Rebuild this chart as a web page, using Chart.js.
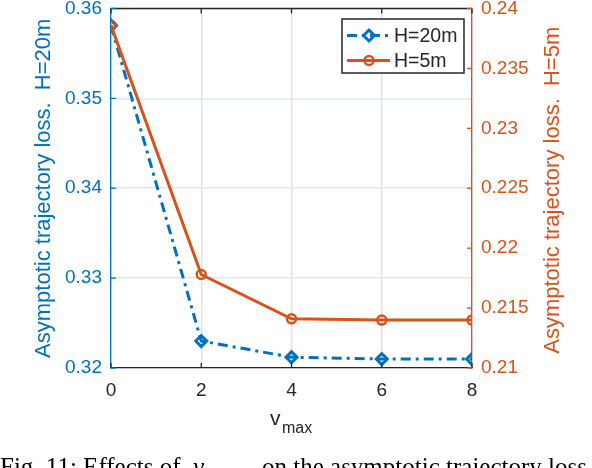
<!DOCTYPE html>
<html>
<head>
<meta charset="utf-8">
<script src="https://cdn.jsdelivr.net/npm/chart.js@4.4.0/dist/chart.umd.min.js"></script>
<style>
  html, body { margin: 0; padding: 0; background: #fff; }
  #wrap { width: 592px; height: 468px; position: relative; }
</style>
</head>
<body>
<div id="wrap"><canvas id="c" width="592" height="468"></canvas></div>
<script>
// ---- data ----
const vmax = [0, 2, 4, 6, 8];
const lossH20 = [0.3581, 0.3230, 0.3212, 0.3210, 0.3210];
const lossH5 = [0.2386, 0.2178, 0.2141, 0.2140, 0.2140];
const seriesNames = ['H=20m', 'H=5m'];
const xTicks = [0, 2, 4, 6, 8];
const leftTicks = [0.32, 0.33, 0.34, 0.35, 0.36];
const rightTicks = [0.21, 0.215, 0.22, 0.225, 0.23, 0.235, 0.24];
const leftTitle = 'Asymptotic trajectory loss.  H=20m';
const rightTitle = 'Asymptotic trajectory loss.  H=5m';
const xTitleMain = 'v';
const xTitleSub = 'max';
const captionA = 'Fig. 11: Effects of ';
const captionV = 'v';
const captionSub = 'max';
const captionB = 'on the asymptotic trajectory loss';

const BLUE = '#0072BD';
const ORANGE = '#D95319';
const DARK = '#262626';
const SANS = "'Liberation Sans', Arial, Helvetica, sans-serif";
const SERIF = "'Liberation Serif', 'Times New Roman', serif";

function fmt(v) { return (+v.toFixed(4)).toString(); }

const decor = {
  id: 'decor',
  afterDraw(chart) {
    const ctx = chart.ctx;
    const a = chart.chartArea;
    const xs = chart.scales.x, ys = chart.scales.y, y1 = chart.scales.y1;
    ctx.save();
    // top border
    ctx.strokeStyle = DARK; ctx.lineWidth = 1.3;
    ctx.beginPath(); ctx.moveTo(a.left, a.top); ctx.lineTo(a.right, a.top); ctx.stroke();
    // inner ticks
    const tl = 5;
    xTicks.forEach(t => {
      const px = xs.getPixelForValue(t);
      ctx.beginPath();
      ctx.moveTo(px, a.top); ctx.lineTo(px, a.top + tl);
      ctx.moveTo(px, a.bottom); ctx.lineTo(px, a.bottom - tl);
      ctx.stroke();
    });
    ctx.strokeStyle = BLUE;
    leftTicks.forEach(t => {
      const py = ys.getPixelForValue(t);
      ctx.beginPath(); ctx.moveTo(a.left, py); ctx.lineTo(a.left + tl, py); ctx.stroke();
    });
    ctx.strokeStyle = ORANGE;
    rightTicks.forEach(t => {
      const py = y1.getPixelForValue(t);
      ctx.beginPath(); ctx.moveTo(a.right, py); ctx.lineTo(a.right - tl, py); ctx.stroke();
    });
    // right title, reading bottom-to-top
    ctx.save();
    ctx.translate(553, (a.top + a.bottom) / 2 + 2);
    ctx.rotate(-Math.PI / 2);
    ctx.fillStyle = ORANGE;
    ctx.font = '22px ' + SANS;
    ctx.textAlign = 'center'; ctx.textBaseline = 'middle';
    ctx.fillText(rightTitle, 0, 0);
    ctx.restore();
    // legend box
    const lx = 342, ly = 19, lw = 122, lh = 54;
    ctx.fillStyle = '#fff';
    ctx.fillRect(lx, ly, lw, lh);
    ctx.strokeStyle = DARK; ctx.lineWidth = 1.5;
    ctx.strokeRect(lx, ly, lw, lh);
    const rows = [ly + 16.5, ly + 41.5];
    chart.data.datasets.forEach((ds, i) => {
      const y = rows[i];
      ctx.strokeStyle = ds.borderColor; ctx.lineWidth = ds.borderWidth;
      ctx.setLineDash(ds.borderDash || []);
      ctx.beginPath(); ctx.moveTo(lx + 5, y); ctx.lineTo(lx + 48, y); ctx.stroke();
      ctx.setLineDash([]);
      ctx.fillStyle = 'rgba(0,0,0,0)';
      ctx.lineWidth = ds.pointBorderWidth;
      Chart.helpers.drawPoint(ctx, {
        pointStyle: ds.pointStyle, radius: ds.pointRadius, borderWidth: ds.pointBorderWidth, rotation: 0
      }, lx + 27, y);
      ctx.fillStyle = DARK;
      ctx.font = '19.5px ' + SANS;
      ctx.textBaseline = 'middle'; ctx.textAlign = 'left';
      ctx.fillText(ds.label, lx + 52, y + 1);
    });
    // x title with subscript
    ctx.fillStyle = DARK;
    ctx.textBaseline = 'alphabetic'; ctx.textAlign = 'left';
    ctx.font = '21px ' + SANS;
    ctx.fillText(xTitleMain, 270, 425);
    ctx.font = '16px ' + SANS;
    ctx.fillText(xTitleSub, 282, 433);
    // caption (clipped at bottom)
    ctx.fillStyle = '#000';
    ctx.font = '25px ' + SERIF;
    ctx.fillText(captionA, 0, 475);
    ctx.font = 'italic 25px ' + SERIF;
    ctx.fillText(captionV, 193, 475);
    ctx.font = 'italic 17px ' + SERIF;
    ctx.fillText(captionSub, 205, 481);
    ctx.font = '25px ' + SERIF;
    ctx.fillText(captionB, 262, 475);
    ctx.restore();
  }
};

new Chart(document.getElementById('c'), {
  type: 'line',
  data: {
    datasets: [
      {
        label: seriesNames[0],
        data: vmax.map((x, i) => ({ x: x, y: lossH20[i] })),
        yAxisID: 'y',
        borderColor: BLUE,
        backgroundColor: 'rgba(0,0,0,0)',
        borderWidth: 3,
        borderDash: [10, 5, 3, 5],
        pointStyle: 'rectRot',
        pointRadius: 5.5,
        pointBorderWidth: 3,
        pointBorderColor: BLUE,
        pointBackgroundColor: 'rgba(0,0,0,0)',
        order: 2,
        tension: 0
      },
      {
        label: seriesNames[1],
        data: vmax.map((x, i) => ({ x: x, y: lossH5[i] })),
        yAxisID: 'y1',
        borderColor: ORANGE,
        backgroundColor: 'rgba(0,0,0,0)',
        borderWidth: 3,
        pointStyle: 'circle',
        pointRadius: 4.5,
        pointBorderWidth: 2.5,
        pointBorderColor: ORANGE,
        pointBackgroundColor: 'rgba(0,0,0,0)',
        order: 1,
        tension: 0
      }
    ]
  },
  options: {
    responsive: false,
    animation: false,
    devicePixelRatio: 1,
    layout: { padding: { top: 7.5, left: 0, right: 0, bottom: 0 } },
    plugins: { legend: { display: false }, tooltip: { enabled: false } },
    scales: {
      x: {
        type: 'linear', position: 'bottom', min: 0, max: 8,
        afterBuildTicks: s => { s.ticks = xTicks.map(v => ({ value: v })); },
        ticks: { color: DARK, font: { family: SANS, size: 19 }, padding: 11, maxRotation: 0 },
        grid: { color: '#e3e3e3', lineWidth: 1.5, drawTicks: false },
        border: { color: DARK, width: 1.3 },
        afterFit: s => { s.height = 100; s.paddingLeft = 0; s.paddingRight = 0; }
      },
      y: {
        type: 'linear', position: 'left', min: 0.32, max: 0.36,
        afterBuildTicks: s => { s.ticks = leftTicks.map(v => ({ value: v })); },
        ticks: { color: BLUE, font: { family: SANS, size: 19 }, padding: 9, callback: v => fmt(v) },
        grid: { color: '#dde9f4', lineWidth: 1.5, drawTicks: false },
        border: { color: BLUE, width: 1.3 },
        title: { display: true, text: leftTitle, color: BLUE, font: { family: SANS, size: 22 }, padding: { top: 31, bottom: 0 } },
        afterFit: s => { s.width = 111; s.paddingTop = 0; s.paddingBottom = 0; }
      },
      y1: {
        type: 'linear', position: 'right', min: 0.21, max: 0.24,
        afterBuildTicks: s => { s.ticks = rightTicks.map(v => ({ value: v })); },
        ticks: { color: ORANGE, font: { family: SANS, size: 19 }, padding: 9, callback: v => fmt(v) },
        grid: { drawOnChartArea: false, drawTicks: false },
        border: { color: ORANGE, width: 1.3 },
        afterFit: s => { s.width = 120; s.paddingTop = 0; s.paddingBottom = 0; }
      }
    }
  },
  plugins: [decor]
});
</script>
</body>
</html>
